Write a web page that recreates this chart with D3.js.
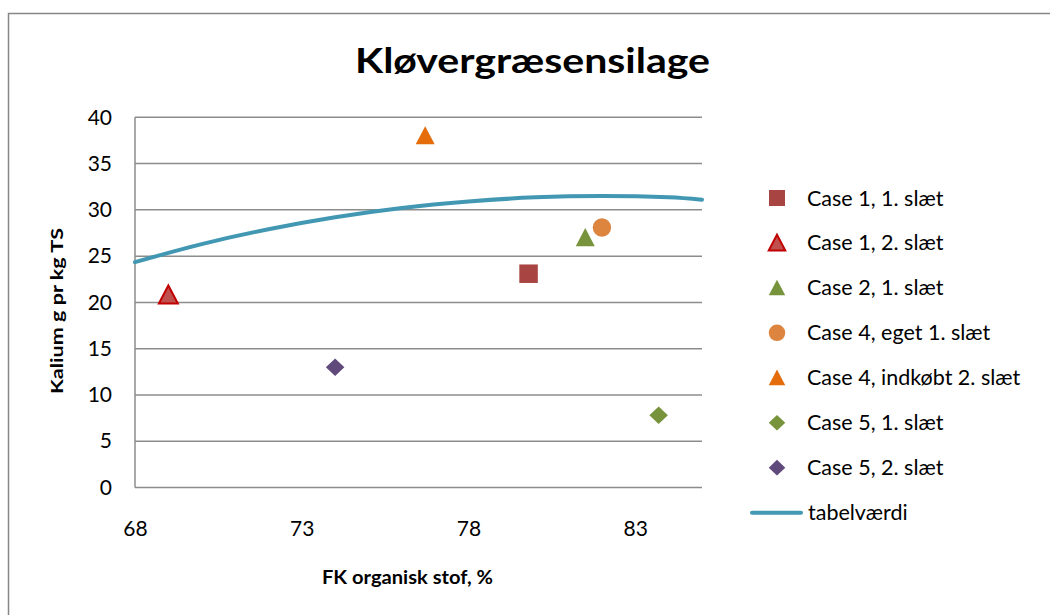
<!DOCTYPE html>
<html>
<head>
<meta charset="utf-8">
<script src="https://cdn.jsdelivr.net/npm/d3@7"></script>
<style>
  html, body { margin: 0; padding: 0; background: #fff; }
  svg { display: block; }
  text { font-family: Lato, "Open Sans", sans-serif; fill: #000; }
</style>
</head>
<body>
<svg id="chart" width="1050" height="615"></svg>
<script>
// Kalium content vs. FK organic matter for clover-grass silage
const xTicks = [68, 73, 78, 83];
const yTicks = [0, 5, 10, 15, 20, 25, 30, 35, 40];

const seriesNames = [
  "Case 1, 1. slæt",
  "Case 1, 2. slæt",
  "Case 2, 1. slæt",
  "Case 4, eget 1. slæt",
  "Case 4, indkøbt 2. slæt",
  "Case 5, 1. slæt",
  "Case 5, 2. slæt"
];
const seriesX = [79.8, 69.0, 81.5, 82.0, 76.7, 83.7, 74.0];
const seriesY = [23.1, 20.8, 27.0, 28.1, 38.0, 7.8, 13.0];
const seriesShape = ["square", "triangle", "triangle", "circle", "triangle", "diamond", "diamond"];
const seriesFill = ["#A84441", "#C0504D", "#77933C", "#DD843F", "#E46C0A", "#77933C", "#604A7B"];
const seriesStroke = [null, "#C00000", null, null, null, null, null];

// tabelværdi reference curve
const tableX = [68, 70, 72, 74, 76, 78, 80, 82, 84, 85];
const tableY = [24.35, 26.3, 27.9, 29.2, 30.2, 30.9, 31.35, 31.5, 31.35, 31.1];
const tableName = "tabelværdi";

const svg = d3.select("#chart");

// outer chart frame
svg.append("rect")
  .attr("x", 8.5).attr("y", 13.5)
  .attr("width", 1100).attr("height", 700)
  .attr("fill", "#fff").attr("stroke", "#868686").attr("stroke-width", 1.5);

const x = d3.scaleLinear().domain([68, 85]).range([135, 702]);
const y = d3.scaleLinear().domain([0, 40]).range([487.5, 117.3]);

// gridlines
svg.append("g")
  .selectAll("line")
  .data(yTicks)
  .join("line")
  .attr("x1", x(68)).attr("x2", x(85))
  .attr("y1", d => y(d)).attr("y2", d => y(d))
  .attr("stroke", "#8C8C8C").attr("stroke-width", 1.5);

// y axis line
svg.append("line")
  .attr("x1", x(68)).attr("x2", x(68))
  .attr("y1", y(0)).attr("y2", y(40))
  .attr("stroke", "#8C8C8C").attr("stroke-width", 1.5);

// y tick labels
const yAxis = d3.axisLeft(y).tickValues(yTicks).tickSize(0).tickPadding(23);
const gy = svg.append("g").attr("transform", `translate(${x(68)},0)`).call(yAxis);
gy.select(".domain").remove();
gy.selectAll("text").attr("font-size", 21).attr("font-family", "Lato, sans-serif").attr("fill", "#000");

// x tick labels
const xAxis = d3.axisBottom(x).tickValues(xTicks).tickSize(0).tickPadding(34);
const gx = svg.append("g").attr("transform", `translate(0,${y(0)})`).call(xAxis);
gx.select(".domain").remove();
gx.selectAll("text").attr("font-size", 21).attr("font-family", "Lato, sans-serif").attr("fill", "#000");

// title
svg.append("text")
  .attr("x", 532.5).attr("y", 73)
  .attr("text-anchor", "middle")
  .attr("font-size", 35).attr("font-weight", "bold")
  .attr("textLength", 355).attr("lengthAdjust", "spacingAndGlyphs")
  .text("Kløvergræsensilage");

// axis titles
svg.append("text")
  .attr("transform", "translate(63,311) rotate(-90)")
  .attr("text-anchor", "middle")
  .attr("font-size", 17).attr("font-weight", "bold")
  .attr("font-family", "'DejaVu Sans', sans-serif")
  .attr("textLength", 166).attr("lengthAdjust", "spacingAndGlyphs")
  .text("Kalium g pr kg TS");

svg.append("text")
  .attr("x", 407.5).attr("y", 584)
  .attr("text-anchor", "middle")
  .attr("font-size", 19).attr("font-weight", "bold")
  .attr("textLength", 171).attr("lengthAdjust", "spacingAndGlyphs")
  .text("FK organisk stof, %");

// smooth reference line
const line = d3.line()
  .x((d, i) => x(tableX[i]))
  .y(d => y(d))
  .curve(d3.curveCatmullRom.alpha(0.5));
svg.append("path")
  .datum(tableY)
  .attr("d", line)
  .attr("fill", "none")
  .attr("stroke", "#4298B3")
  .attr("stroke-width", 4)
  .attr("stroke-linecap", "round");

// marker shapes, sized by s (approx. width in px)
function shapePath(shape, s) {
  const h = s / 2;
  if (shape === "square") return `M${-h},${-h}H${h}V${h}H${-h}Z`;
  if (shape === "triangle") return `M0,${-h * 1.0}L${h},${h * 0.9}L${-h},${h * 0.9}Z`;
  if (shape === "diamond") return `M0,${-h * 0.95}L${h},0L0,${h * 0.95}L${-h},0Z`;
  if (shape === "circle") return `M${-h},0A${h},${h} 0 1,0 ${h},0A${h},${h} 0 1,0 ${-h},0Z`;
  return "";
}

// scatter markers
svg.append("g")
  .selectAll("path")
  .data(seriesNames.map((n, i) => i))
  .join("path")
  .attr("transform", i => `translate(${x(seriesX[i])},${y(seriesY[i])})`)
  .attr("d", i => shapePath(seriesShape[i], seriesShape[i] === "triangle" ? 19 : 18.5))
  .attr("fill", i => seriesFill[i])
  .attr("stroke", i => seriesStroke[i] || "none")
  .attr("stroke-width", 2)
  .attr("stroke-linejoin", "miter");

// legend
const legendTop = 198;
const legendStep = 44.95;
const lg = svg.append("g");
seriesNames.forEach((name, i) => {
  const cy = legendTop + i * legendStep;
  lg.append("path")
    .attr("transform", `translate(777,${cy})`)
    .attr("d", shapePath(seriesShape[i], seriesShape[i] === "square" ? 16 : 16.5))
    .attr("fill", seriesFill[i])
    .attr("stroke", seriesStroke[i] || "none")
    .attr("stroke-width", 2);
  lg.append("text")
    .attr("x", 807).attr("y", cy + 7.5)
    .attr("font-size", 21.5)
    .text(name);
});
const lineY = legendTop + seriesNames.length * legendStep;
lg.append("line")
  .attr("x1", 752).attr("x2", 801)
  .attr("y1", lineY).attr("y2", lineY)
  .attr("stroke", "#4298B3").attr("stroke-width", 4).attr("stroke-linecap", "round");
lg.append("text")
  .attr("x", 808).attr("y", lineY + 7.5)
  .attr("font-size", 21.5)
  .text(tableName);
</script>
</body>
</html>
